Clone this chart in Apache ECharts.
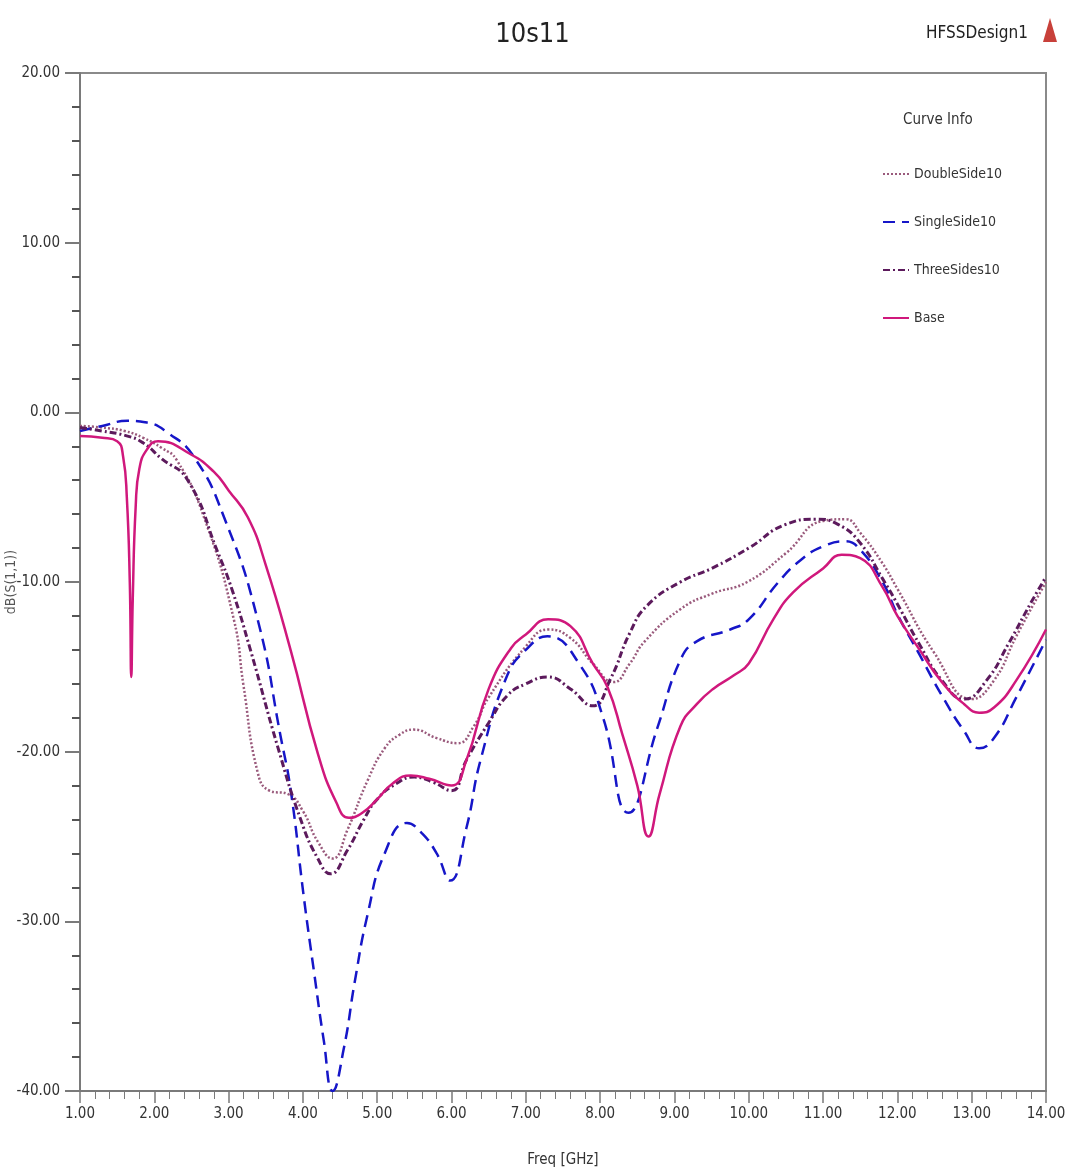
<!DOCTYPE html>
<html>
<head>
<meta charset="utf-8">
<title>10s11</title>
<script src="https://cdn.jsdelivr.net/npm/echarts@6/dist/echarts.min.js"></script>
<style>
  html, body { margin: 0; padding: 0; background: #fff; }
  #chart { width: 1065px; height: 1172px; }
</style>
</head>
<body>
<div id="chart"></div>
<script>
// Freq [GHz] / dB(S(1,1))
var doubleFreq = [1.0, 1.3, 1.6, 1.85, 2.1, 2.3, 2.67, 3.07, 3.2, 3.39, 3.55, 3.8, 4.0, 4.2, 4.4, 4.6, 4.87, 5.1, 5.3, 5.49, 5.8, 6.08, 6.3, 6.5, 7.0, 7.3, 7.6, 7.9, 8.18, 8.4, 8.6, 9.08, 9.5, 9.98, 10.5, 11.0, 11.3, 11.5, 11.8, 12.0, 12.5, 13.0, 13.3, 13.6, 14.0]
var doubleDb = [-0.8, -0.9, -1.1, -1.5, -2.1, -2.8, -6.2, -12.2, -16.1, -21.2, -22.3, -22.5, -23.5, -25.3, -26.3, -24.6, -21.7, -19.8, -19.0, -18.7, -19.2, -19.5, -18.5, -16.8, -13.8, -12.8, -13.3, -14.8, -15.9, -14.8, -13.5, -11.6, -10.7, -10.0, -8.3, -6.4, -6.3, -7.1, -8.9, -10.4, -14.2, -16.9, -15.8, -13.2, -10.0]

var singleFreq = [1.0, 1.3, 1.64, 1.9, 2.18, 2.53, 2.94, 3.39, 3.7, 3.84, 4.01, 4.15, 4.28, 4.4, 4.55, 4.7, 4.87, 5.1, 5.4, 5.6, 5.8, 5.98, 6.2, 6.39, 6.75, 7.0, 7.29, 7.73, 8.04, 8.38, 8.77, 9.08, 9.3, 9.75, 10.0, 10.4, 10.7, 11.0, 11.3, 11.5, 11.8, 12.0, 12.3, 12.6, 12.9, 13.1, 13.3, 13.6, 14.0]
var singleDb = [-1.1, -0.8, -0.5, -0.6, -1.2, -2.6, -6.2, -12.2, -19.1, -22.4, -28.5, -33, -37, -40, -37.5, -33.5, -29.6, -26, -24.2, -24.8, -26, -27.6, -24.5, -20.5, -15.5, -14.0, -13.2, -14.9, -18.0, -23.6, -18.6, -14.6, -13.5, -12.8, -12.2, -10, -8.7, -7.9, -7.6, -8.1, -10, -11.9, -14.3, -16.7, -18.8, -19.8, -19.2, -16.8, -13.4]

var threeFreq = [1.0, 1.3, 1.64, 1.85, 2.09, 2.45, 2.85, 3.05, 3.3, 3.66, 3.97, 4.2, 4.37, 4.6, 4.82, 5.0, 5.25, 5.5, 5.75, 6.0, 6.2, 6.5, 6.75, 7.0, 7.3, 7.6, 7.9, 8.14, 8.4, 8.63, 9.08, 9.5, 10.0, 10.5, 10.9, 11.2, 11.5, 11.8, 12.0, 12.3, 12.6, 12.9, 13.2, 13.5, 13.8, 14.0]
var threeDb = [-0.9, -1.1, -1.4, -1.8, -2.7, -4.0, -8.2, -10.5, -14.1, -19.7, -24.0, -26.3, -27.2, -25.8, -24.0, -22.8, -21.9, -21.5, -21.8, -22.3, -20.5, -18.3, -16.7, -16.0, -15.6, -16.3, -17.3, -15.7, -13.0, -11.4, -10.0, -9.2, -8.0, -6.6, -6.3, -6.6, -7.7, -9.8, -11.3, -13.7, -15.8, -16.9, -15.8, -13.6, -11.2, -9.7]

var baseFreq = [1.0, 1.3, 1.5, 1.58, 1.63, 1.67, 1.69, 1.71, 1.75, 1.8, 1.9, 2.05, 2.5, 2.8, 3.0, 3.26, 3.5, 3.84, 4.2, 4.45, 4.62, 4.8, 5.0, 5.2, 5.45, 5.7, 6.0, 6.2, 6.5, 6.8, 7.0, 7.3, 7.6, 7.9, 8.1, 8.3, 8.5, 8.65, 8.8, 9.08, 9.3, 9.52, 9.8, 10.0, 10.33, 10.6, 11.0, 11.25, 11.5, 11.8, 12.0, 12.3, 12.6, 12.9, 13.1, 13.3, 13.6, 14.0]
var baseDb = [-1.4, -1.5, -1.7, -2.6, -5, -10, -15.6, -11, -5.5, -3.3, -2.2, -1.7, -2.5, -3.5, -4.6, -6.2, -9.0, -14.1, -20.1, -23.0, -23.9, -23.6, -22.8, -21.9, -21.4, -21.6, -22.0, -20.5, -16.3, -13.9, -13.1, -12.2, -12.6, -14.8, -16.2, -19.0, -22.0, -25.0, -22.5, -18.5, -17.2, -16.3, -15.5, -14.8, -12.2, -10.6, -9.2, -8.4, -8.6, -10.3, -12.0, -14.0, -15.9, -17.2, -17.7, -17.4, -15.8, -12.8]

var curveNames = ['DoubleSide10', 'SingleSide10', 'ThreeSides10', 'Base']

function pairs(xs, ys) {
  var out = []
  for (var i = 0; i < xs.length; i++) out.push([xs[i], ys[i]])
  return out
}

var narrow = '"Liberation Sans Narrow", "DejaVu Sans Condensed", "Liberation Sans", sans-serif'
var axisGray = '#7a7a7a'

var myChart = echarts.init(document.getElementById('chart'), null, { renderer: 'canvas' })
var option = {
  animation: false,
  backgroundColor: '#fff',
  textStyle: { fontFamily: narrow },
  title: {
    text: '10s11',
    left: 'center',
    top: 16,
    textStyle: { fontFamily: narrow, fontSize: 27, fontWeight: 'normal', color: '#222' }
  },
  graphic: [
    { type: 'text', x: 1028, y: 25, style: { text: 'HFSSDesign1', font: '17px ' + narrow, fill: '#222', align: 'right' } },
    { type: 'polygon', shape: { points: [[1050, 18], [1043, 42], [1057, 42]] }, style: { fill: '#c8403a' } },
    { type: 'text', left: 903, top: 113, style: { text: 'Curve Info', font: '15px ' + narrow, fill: '#333' } }
  ],
  legend: {
    orient: 'vertical',
    left: 877,
    top: 162,
    itemWidth: 26,
    itemHeight: 14,
    itemGap: 34,
    data: curveNames,
    // line only, no marker dot
    itemStyle: { color: 'rgba(0,0,0,0)', borderWidth: 0 },
    textStyle: { fontFamily: narrow, fontSize: 14, color: '#333' }
  },
  grid: {
    left: 80,
    right: 19,
    top: 73,
    bottom: 81,
    containLabel: false,
    outerBoundsMode: 'none',
    show: true,
    borderColor: '#8a8a8a',
    borderWidth: 2
  },
  xAxis: {
    type: 'value',
    min: 1,
    max: 14,
    interval: 1,
    name: 'Freq [GHz]',
    nameLocation: 'middle',
    nameGap: 62,
    nameMoveOverlap: false,
    nameTextStyle: { fontFamily: narrow, fontSize: 15, color: '#333' },
    axisLine: { onZero: false, lineStyle: { color: axisGray, width: 2 } },
    axisTick: { inside: false, length: 12, lineStyle: { color: axisGray, width: 1.5 } },
    minorTick: { show: true, splitNumber: 5, length: 8, lineStyle: { color: axisGray } },
    splitLine: { show: false },
    axisLabel: {
      margin: 16,
      fontSize: 15,
      color: '#333',
      formatter: function (v) { return v.toFixed(2) }
    }
  },
  yAxis: {
    type: 'value',
    min: -40,
    max: 20,
    interval: 10,
    name: 'dB(S(1,1))',
    nameLocation: 'middle',
    nameGap: 62,
    nameRotate: 90,
    nameMoveOverlap: false,
    nameTextStyle: { fontFamily: narrow, fontSize: 14, color: '#555' },
    axisLine: { show: true, onZero: false, lineStyle: { color: axisGray, width: 2 } },
    axisTick: { length: 15, lineStyle: { color: axisGray, width: 2 } },
    minorTick: { show: true, splitNumber: 5, length: 8, lineStyle: { color: '#555', width: 2 } },
    splitLine: { show: false },
    axisLabel: {
      margin: 20,
      fontSize: 15,
      color: '#333',
      formatter: function (v) { return v.toFixed(2) }
    }
  },
  series: [
    {
      name: 'DoubleSide10',
      type: 'line',
      symbol: 'none',
      smooth: 0.5,
      data: pairs(doubleFreq, doubleDb),
      color: '#9a5a7c',
      lineStyle: { color: '#9a5a7c', width: 2.5, type: [2, 2] }
    },
    {
      name: 'SingleSide10',
      type: 'line',
      symbol: 'none',
      smooth: 0.5,
      data: pairs(singleFreq, singleDb),
      color: '#1616c8',
      lineStyle: { color: '#1616c8', width: 2.5, type: [12, 7] }
    },
    {
      name: 'ThreeSides10',
      type: 'line',
      symbol: 'none',
      smooth: 0.5,
      data: pairs(threeFreq, threeDb),
      color: '#5c1a5c',
      lineStyle: { color: '#5c1a5c', width: 3, type: [7, 3, 2, 3] }
    },
    {
      name: 'Base',
      type: 'line',
      symbol: 'none',
      smooth: 0.5,
      data: pairs(baseFreq, baseDb),
      color: '#d0187c',
      lineStyle: { color: '#d0187c', width: 2.5 }
    }
  ]
}
myChart.setOption(option)
</script>
</body>
</html>
